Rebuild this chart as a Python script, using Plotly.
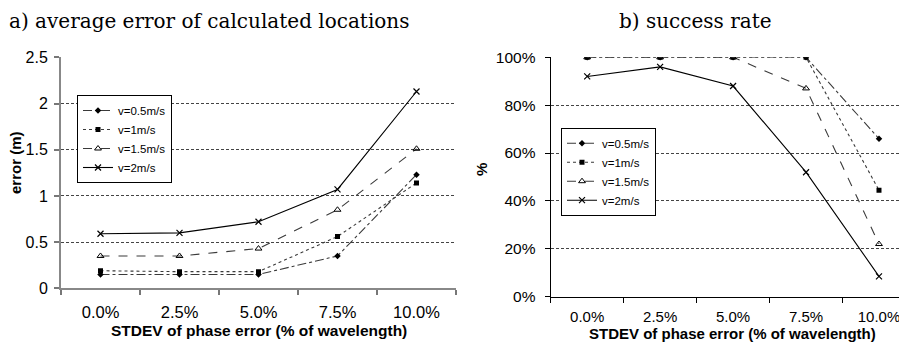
import plotly.graph_objects as go

categories = ["0.0%", "2.5%", "5.0%", "7.5%", "10.0%"]
series_names = ["v=0.5m/s", "v=1m/s", "v=1.5m/s", "v=2m/s"]

error_v05 = [0.15, 0.15, 0.15, 0.35, 1.23]
error_v1 = [0.19, 0.18, 0.18, 0.56, 1.14]
error_v15 = [0.35, 0.35, 0.43, 0.85, 1.51]
error_v2 = [0.59, 0.60, 0.72, 1.07, 2.13]

success_v05 = [100, 100, 100, 100, 66]
success_v1 = [100, 100, 100, 100, 44.5]
success_v15 = [100, 100, 100, 87, 22]
success_v2 = [92, 96, 88, 52, 8.5]

error_ticks = [0, 0.5, 1, 1.5, 2, 2.5]
error_ticktext = ["0", "0.5", "1", "1.5", "2", "2.5"]
success_ticks = [0, 20, 40, 60, 80, 100]
success_ticktext = ["0%", "20%", "40%", "60%", "80%", "100%"]

# page body has an 8px default margin; lay the figure out in window pixels
OFF = 8
WIN_W, WIN_H = 907, 352
W, H = WIN_W - OFF, WIN_H - OFF

styles = [
    dict(dash="dashdot", color="#3a3a3a", symbol="diamond", msize=5, mline=0),
    dict(dash="dot", color="#3a3a3a", symbol="square", msize=5, mline=0),
    dict(dash="dash", color="#3a3a3a", symbol="triangle-up-open", msize=6, mline=1),
    dict(dash="solid", color="#000000", symbol="x-thin", msize=6, mline=1.2),
]

fig = go.Figure()

left_data = [error_v05, error_v1, error_v15, error_v2]
right_data = [success_v05, success_v1, success_v15, success_v2]

for name, ys, st in zip(series_names, left_data, styles):
    fig.add_trace(go.Scatter(
        x=categories, y=ys, name=name, mode="lines+markers",
        line=dict(color=st["color"], width=1.1, dash=st["dash"]),
        marker=dict(symbol=st["symbol"], size=st["msize"], color="#000000",
                    line=dict(color="#000000", width=st["mline"])),
        xaxis="x", yaxis="y", legend="legend",
    ))

for name, ys, st in zip(series_names, right_data, styles):
    fig.add_trace(go.Scatter(
        x=categories, y=ys, name=name, mode="lines+markers",
        line=dict(color=st["color"], width=1.1, dash=st["dash"]),
        marker=dict(symbol=st["symbol"], size=st["msize"], color="#000000",
                    line=dict(color="#000000", width=st["mline"])),
        xaxis="x2", yaxis="y2", legend="legend2",
    ))

def py(px):
    return 1 - (px - OFF) / H

def pxf(px):
    return (px - OFF) / W

sans = "Liberation Sans, Arial, sans-serif"
serif = "DejaVu Serif, serif"

grid = dict(showgrid=True, gridcolor="#444444", gridwidth=1, griddash="3px,2px")

fig.update_layout(
    template="none",
    width=W, height=H,
    margin=dict(l=0, r=0, t=0, b=0, autoexpand=False),
    paper_bgcolor="white", plot_bgcolor="white",
    font=dict(family=sans, color="#000000"),
    xaxis=dict(type="category", domain=[pxf(61), pxf(456)], range=[-0.5, 4.5],
               anchor="y", tickson="boundaries", ticks="outside", ticklen=5,
               tickcolor="#777777", tickwidth=1.5, automargin=False,
               showline=True, linecolor="#888888", linewidth=2,
               showgrid=False, tickfont=dict(size=16.5), ticklabelstandoff=8),
    yaxis=dict(domain=[py(288.3), py(57.3)], range=[0, 2.5], anchor="x",
               tickvals=error_ticks, ticktext=error_ticktext, automargin=False,
               ticks="outside", ticklen=5, tickcolor="#777777", tickwidth=1.5,
               showline=True, linecolor="#888888", linewidth=2,
               tickfont=dict(size=16), zeroline=False, ticklabelstandoff=3, **grid),
    xaxis2=dict(type="category", domain=[pxf(550.7), 1.0], range=[-0.5, 4.384],
                anchor="y2", tickson="boundaries", ticks="outside", ticklen=5,
                tickcolor="#000000", tickwidth=1, automargin=False,
                showline=True, linecolor="#000000", linewidth=1.2,
                showgrid=False, tickfont=dict(size=15), ticklabelstandoff=6),
    yaxis2=dict(domain=[py(296.7), py(57.3)], range=[0, 100], anchor="x2",
                tickvals=success_ticks, ticktext=success_ticktext, automargin=False,
                ticks="outside", ticklen=5, tickcolor="#000000", tickwidth=1,
                showline=True, linecolor="#000000", linewidth=1.2,
                tickfont=dict(size=15.5), zeroline=False, ticklabelstandoff=6, **grid),
    legend=dict(x=pxf(77), y=py(95), xanchor="left", yanchor="top",
                bordercolor="#000000", borderwidth=1, bgcolor="white",
                font=dict(size=11.5, family=sans), itemwidth=30,
                tracegroupgap=0),
    legend2=dict(x=pxf(561), y=py(127.7), xanchor="left", yanchor="top",
                 bordercolor="#000000", borderwidth=1, bgcolor="white",
                 font=dict(size=11.5, family=sans), itemwidth=30,
                 tracegroupgap=0),
    showlegend=True,
    annotations=[
        dict(text="a) average error of calculated locations", x=pxf(8), y=1.0,
             xref="paper", yref="paper", xanchor="left", yanchor="top", borderpad=0,
             showarrow=False, font=dict(family=serif, size=20)),
        dict(text="b) success rate", x=pxf(695), y=1.0,
             xref="paper", yref="paper", xanchor="center", yanchor="top", borderpad=0,
             showarrow=False, font=dict(family=serif, size=20)),
        dict(text="<b>STDEV of phase error (% of wavelength)</b>", x=pxf(259), y=py(330),
             xref="paper", yref="paper", xanchor="center", yanchor="middle",
             showarrow=False, font=dict(family=sans, size=15.5)),
        dict(text="<b>STDEV of phase error (% of wavelength)</b>", x=pxf(732), y=py(333),
             xref="paper", yref="paper", xanchor="center", yanchor="middle",
             showarrow=False, font=dict(family=sans, size=15)),
        dict(text="<b>error (m)</b>", x=pxf(15), y=py(163), textangle=-90,
             xref="paper", yref="paper", xanchor="center", yanchor="middle",
             showarrow=False, font=dict(family=sans, size=15)),
        dict(text="<b>%</b>", x=pxf(482), y=py(170), textangle=-90,
             xref="paper", yref="paper", xanchor="center", yanchor="middle",
             showarrow=False, font=dict(family=sans, size=15)),
    ],
)

fig.write_html("out.html")
